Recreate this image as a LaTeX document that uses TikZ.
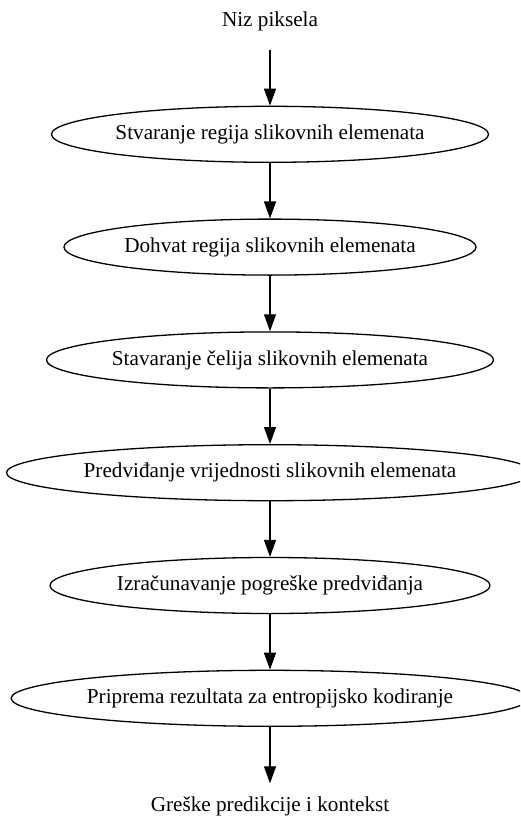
\documentclass[tikz,border=0pt]{standalone}
\usepackage{fontspec}
\setmainfont{Liberation Serif}
\usetikzlibrary{shapes.geometric,arrows.meta}
\tikzset{
  stage/.style={draw, ellipse, line width=1.3pt, inner sep=0pt, minimum height=56pt},
  endpoint/.style={inner sep=0pt, minimum height=56pt, minimum width=10pt},
  flow/.style={line width=1.3pt, -{Triangle[length=17pt,width=12pt]}}
}
\begin{document}
\begin{tikzpicture}[x=1pt, y=-1pt, font=\fontsize{21.2}{25}\selectfont]
  \useasboundingbox (0,0) rectangle (520,819);
  \begin{scope}
    \clip (0,0) rectangle (520,819);
    \node[endpoint] (in)  at (270,21.5)  {Niz piksela};
    \node[stage, minimum width=430pt] (s1) at (270,134.3) {Stvaranje regija slikovnih elemenata};
    \node[stage, minimum width=408pt] (s2) at (270,247.1) {Dohvat regija slikovnih elemenata};
    \node[stage, minimum width=438pt] (s3) at (270,359.9) {Stavaranje čelija slikovnih elemenata};
    \node[stage, minimum width=516pt] (s4) at (270,472.7) {Predviđanje vrijednosti slikovnih elemenata};
    \node[stage, minimum width=440pt] (s5) at (270,585.5) {Izračunavanje pogreške predviđanja};
    \node[stage, minimum width=514pt] (s6) at (270,698.3) {Priprema rezultata za entropijsko kodiranje};
    \node[endpoint, minimum height=46pt] (out) at (270,806.5) {Greške predikcije i kontekst};
    \draw[flow] (in) -- (s1);
    \draw[flow] (s1) -- (s2);
    \draw[flow] (s2) -- (s3);
    \draw[flow] (s3) -- (s4);
    \draw[flow] (s4) -- (s5);
    \draw[flow] (s5) -- (s6);
    \draw[flow] (s6) -- (out);
  \end{scope}
\end{tikzpicture}
\end{document}
